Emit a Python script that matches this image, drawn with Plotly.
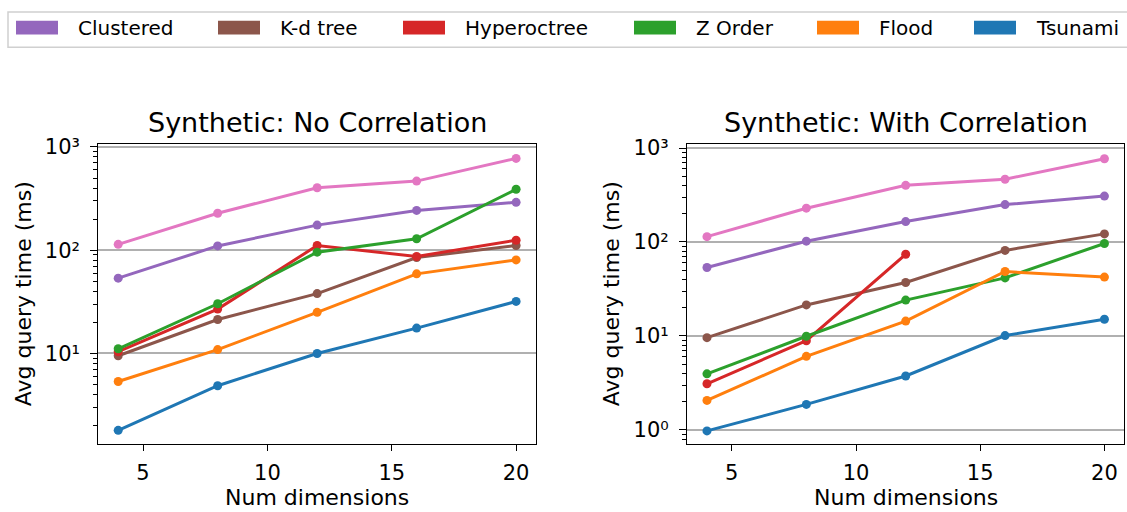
import plotly.graph_objects as go

W, H = 1127, 512

# ---------------- data ----------------
dims = [4, 8, 12, 16, 20]
dims_hyper_corr = [4, 8, 12]

series_names = ["Clustered", "K-d tree", "Hyperoctree", "Z Order", "Flood", "Tsunami", "Full Scan"]
series_colors = ["#9467bd", "#8c564b", "#d62728", "#2ca02c", "#ff7f0e", "#1f77b4", "#e377c2"]

# Synthetic: No Correlation
nocorr_clustered = [53.6, 110, 175, 243, 291]
nocorr_kdtree = [9.5, 21.3, 38, 85, 111]
nocorr_hyperoctree = [10.4, 26.9, 111, 87, 125]
nocorr_zorder = [11.1, 30.3, 95.7, 129, 389]
nocorr_flood = [5.35, 10.9, 25, 59, 80.5]
nocorr_tsunami = [1.80, 4.87, 10, 17.6, 31.9]
nocorr_fullscan = [114, 228, 403, 467, 775]

# Synthetic: With Correlation
corr_clustered = [53.6, 102, 165, 250, 308]
corr_kdtree = [9.6, 21.4, 37.1, 81.4, 122]
corr_hyperoctree = [3.1, 8.9, 74]
corr_zorder = [3.95, 9.93, 24.1, 41.5, 96.5]
corr_flood = [2.06, 6.07, 14.4, 48.5, 42.3]
corr_tsunami = [0.976, 1.87, 3.75, 10.1, 15.05]
corr_fullscan = [114, 229, 401, 466, 770]

panel_titles = ["Synthetic: No Correlation", "Synthetic: With Correlation"]
x_label = "Num dimensions"
y_label = "Avg query time (ms)"
x_ticks = [5, 10, 15, 20]
y_tick_labels = {0: "10⁰", 1: "10¹", 2: "10²", 3: "10³"}

FONT = "DejaVu Sans"

fig = go.Figure()

left = [
    (dims, nocorr_clustered), (dims, nocorr_kdtree), (dims, nocorr_hyperoctree),
    (dims, nocorr_zorder), (dims, nocorr_flood), (dims, nocorr_tsunami), (dims, nocorr_fullscan),
]
right = [
    (dims, corr_clustered), (dims, corr_kdtree), (dims_hyper_corr, corr_hyperoctree),
    (dims, corr_zorder), (dims, corr_flood), (dims, corr_tsunami), (dims, corr_fullscan),
]

for panel, (xa, ya) in ((left, ("x", "y")), (right, ("x2", "y2"))):
    for (xs, ys), name, col in zip(panel, series_names, series_colors):
        fig.add_trace(go.Scatter(
            x=xs, y=ys, name=name, mode="lines+markers",
            line=dict(color=col, width=3),
            marker=dict(color=col, size=9),
            xaxis=xa, yaxis=ya, showlegend=False,
        ))

# ---------------- layout ----------------
def px_x(p):
    return p / W

def px_y(p):
    return 1 - p / H

xdom1 = [px_x(98.3), px_x(536.0)]
xdom2 = [px_x(687.1), px_x(1124.3)]
ydom = [px_y(443.0), px_y(137.7)]

minor_vals = [m * 10 ** k for k in range(-1, 4) for m in range(2, 10)]

def xaxis_cfg(dom, anchor):
    return dict(
        domain=dom, anchor=anchor, range=[3.2, 20.8],
        tickmode="array", tickvals=x_ticks, ticktext=[str(v) for v in x_ticks],
        ticks="outside", ticklen=6, tickwidth=1.3, tickcolor="black",
        showline=True, mirror=True, linecolor="black", linewidth=1.3,
        showgrid=False, zeroline=False,
        tickfont=dict(family=FONT, size=21, color="black"),
        ticklabelstandoff=3,
    )

def yaxis_cfg(anchor, rng, exps):
    return dict(
        domain=ydom, anchor=anchor, type="log", range=rng,
        tickmode="array", tickvals=[10 ** e for e in exps],
        ticktext=[y_tick_labels[e] for e in exps],
        ticks="outside", ticklen=7, tickwidth=1.3, tickcolor="black",
        showline=True, mirror=True, linecolor="black", linewidth=1.3,
        showgrid=True, gridcolor="#b0b0b0", gridwidth=1.5, zeroline=False,
        tickfont=dict(family=FONT, size=21, color="black"),
        ticklabelstandoff=6,
        minor=dict(tickmode="array", tickvals=minor_vals, ticks="outside",
                   ticklen=4, tickwidth=1, tickcolor="black", showgrid=False),
    )

fig.update_layout(
    width=W, height=H,
    margin=dict(l=0, r=0, t=0, b=0),
    paper_bgcolor="white", plot_bgcolor="white",
    showlegend=False,
    xaxis=xaxis_cfg(xdom1, "y"),
    xaxis2=xaxis_cfg(xdom2, "y2"),
    yaxis=yaxis_cfg("x", [0.121, 3.026], [1, 2, 3]),
    yaxis2=yaxis_cfg("x2", [-0.152, 3.04], [0, 1, 2, 3]),
)

annotations = []
shapes = []

# titles and axis labels
for dom, title, ylab_x in ((xdom1, panel_titles[0], 23), (xdom2, panel_titles[1], 611)):
    cx = (dom[0] + dom[1]) / 2
    annotations.append(dict(text=title, x=cx, y=px_y(115.5), xref="paper", yref="paper",
                            xanchor="center", yanchor="middle", showarrow=False,
                            font=dict(family=FONT, size=27, color="black")))
    annotations.append(dict(text=x_label, x=cx, y=px_y(497.5), xref="paper", yref="paper",
                            xanchor="center", yanchor="middle", showarrow=False,
                            font=dict(family=FONT, size=22, color="black")))
    annotations.append(dict(text=y_label, x=px_x(ylab_x), y=(ydom[0] + ydom[1]) / 2,
                            xref="paper", yref="paper", textangle=-90,
                            xanchor="center", yanchor="middle", showarrow=False,
                            font=dict(family=FONT, size=22, color="black")))

# legend box (drawn manually, matplotlib style), extends past right edge
shapes.append(dict(type="rect", xref="paper", yref="paper",
                   x0=px_x(8), x1=px_x(1160), y0=px_y(39), y1=px_y(3),
                   line=dict(color="#d0d0d0", width=1.5), fillcolor="white", layer="above"))
patch_x = [16, 218, 403, 634, 817, 974]
for px0, name, col in zip(patch_x, series_names[:6], series_colors[:6]):
    shapes.append(dict(type="rect", xref="paper", yref="paper",
                       x0=px_x(px0), x1=px_x(px0 + 42), y0=px_y(26), y1=px_y(12),
                       line=dict(width=0), fillcolor=col, layer="above"))
    annotations.append(dict(text=name, x=px_x(px0 + 60), y=px_y(19.5), xref="paper", yref="paper",
                            xanchor="left", yanchor="middle", showarrow=False,
                            font=dict(family=FONT, size=20, color="black")))

fig.update_layout(annotations=annotations, shapes=shapes)

fig.write_html("out.html")
